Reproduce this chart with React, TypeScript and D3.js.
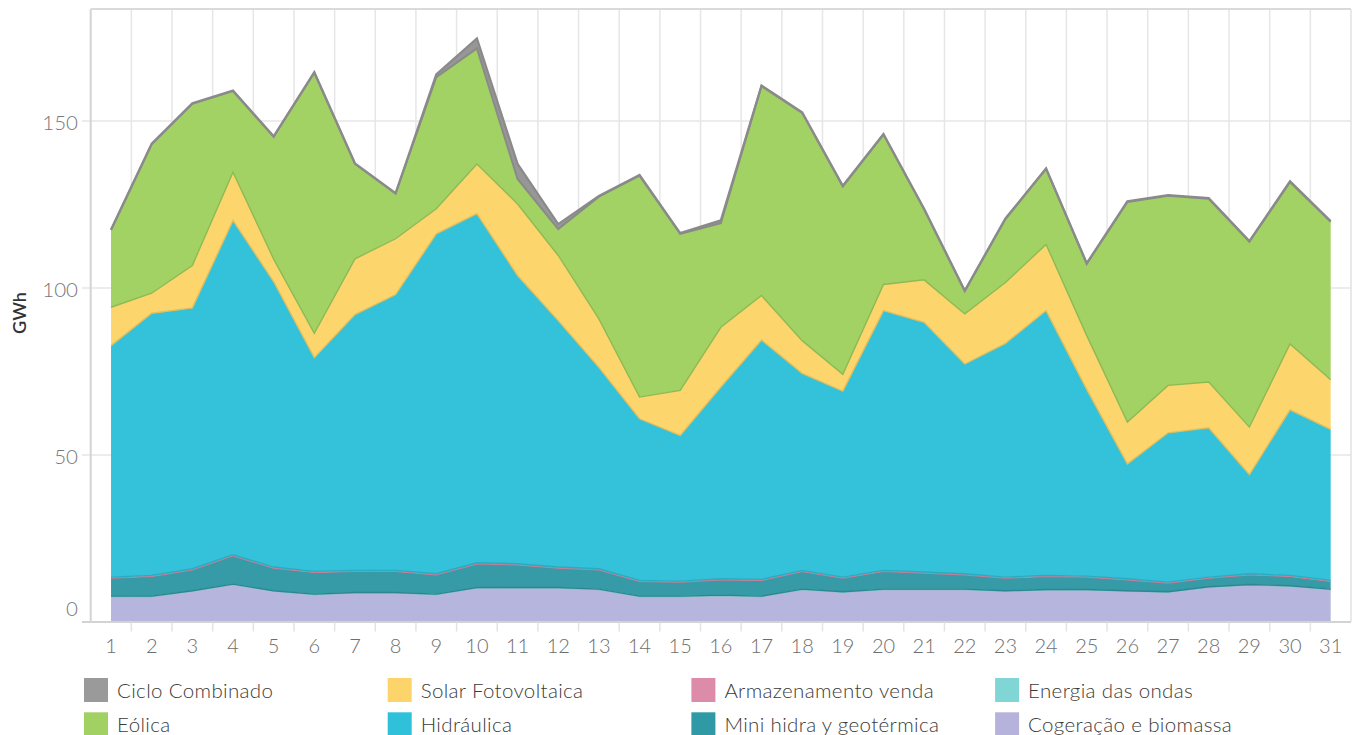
import React, { useEffect, useRef } from 'react';
import { select, scaleBand, scaleLinear, stack, area, line, axisLeft, axisBottom, color } from 'd3';

// dias do mês
const days = ['1','2','3','4','5','6','7','8','9','10','11','12','13','14','15','16','17','18','19','20','21','22','23','24','25','26','27','28','29','30','31'];

// GWh por tecnologia
const cicloCombinado = [0.2,0.2,0.2,0.2,0.2,0.2,0.2,0.2,0.8,3.0,4.5,1.5,0.2,0.2,0.2,0.8,0.2,0.2,0.2,0.2,0.2,0.2,0.2,0.2,0.2,0.2,0.2,0.2,0.2,0.2,0.2];
const eolica = [23.1,44.6,48.4,24.3,36.6,78.0,28.4,13.5,39.4,34.6,7.5,7.9,36.6,66.3,46.9,31.2,62.7,68.2,56.3,44.9,21.1,6.8,19.0,22.6,21.5,65.9,56.8,54.9,55.5,48.5,47.3];
const solarFotovoltaica = [11.5,6.0,12.7,14.4,6.7,7.3,16.7,16.7,7.5,14.9,21.4,19.5,14.5,6.5,13.5,17.9,13.3,9.8,5.0,7.8,12.7,15.0,18.2,19.8,16.1,12.5,14.2,13.7,14.2,19.7,14.9];
const hidraulica = [69.3,78.5,78.1,100.1,85.5,64.0,76.6,82.6,101.8,104.5,86.3,73.8,60.3,48.4,43.6,57.4,71.7,59.0,55.7,77.8,74.8,62.8,70.0,79.3,55.9,34.4,44.7,44.7,29.7,49.6,45.2];
const armazenamentoVenda = [0.3,0.3,0.3,0.3,0.3,0.3,0.3,0.3,0.3,0.3,0.3,0.3,0.3,0.3,0.3,0.3,0.3,0.3,0.3,0.3,0.3,0.3,0.3,0.3,0.3,0.3,0.3,0.3,0.3,0.3,0.3];
const miniHidra = [5.4,5.9,6.3,8.5,6.8,6.5,6.3,6.3,5.8,7.1,6.8,5.8,5.8,4.4,4.2,4.6,4.7,5.3,4.1,5.3,4.8,4.3,3.8,3.9,3.7,3.3,2.6,2.6,2.9,2.8,2.3];
const energiaOndas = [0.1,0.1,0.1,0.1,0.1,0.1,0.1,0.1,0.1,0.1,0.1,0.1,0.1,0.1,0.1,0.1,0.1,0.1,0.1,0.1,0.1,0.1,0.1,0.1,0.1,0.1,0.1,0.1,0.1,0.1,0.1];
const cogeracao = [7.5,7.5,9.1,11.1,9.1,8.1,8.6,8.6,8.1,10.1,10.1,10.1,9.6,7.5,7.5,7.8,7.5,9.6,8.8,9.6,9.6,9.6,9.1,9.5,9.5,9.1,8.8,10.3,11.0,10.6,9.6];

const yTicks = [0, 50, 100, 150];

// ordem de empilhamento, de baixo para cima
const series = [
  { key: 'Cogeração e biomassa', values: cogeracao, color: '#b3b2dc' },
  { key: 'Energia das ondas', values: energiaOndas, color: '#80d6d4' },
  { key: 'Mini hidra y geotérmica', values: miniHidra, color: '#2e97a3' },
  { key: 'Armazenamento venda', values: armazenamentoVenda, color: '#dc8ca8' },
  { key: 'Hidráulica', values: hidraulica, color: '#2bbfd8' },
  { key: 'Solar Fotovoltaica', values: solarFotovoltaica, color: '#fcd366' },
  { key: 'Eólica', values: eolica, color: '#9ecf5e' },
  { key: 'Ciclo Combinado', values: cicloCombinado, color: '#939393' },
];

const legendColor = {
  'Ciclo Combinado': '#9a9a9a',
  'Eólica': '#a1d163',
  'Solar Fotovoltaica': '#fcd46a',
  'Hidráulica': '#30c1da',
  'Armazenamento venda': '#dc8ca8',
  'Mini hidra y geotérmica': '#2f9aa6',
  'Energia das ondas': '#80d6d4',
  'Cogeração e biomassa': '#b5b3dc',
};

// legenda em 2 linhas x 4 colunas
const legendRows = [
  ['Ciclo Combinado', 'Solar Fotovoltaica', 'Armazenamento venda', 'Energia das ondas'],
  ['Eólica', 'Hidráulica', 'Mini hidra y geotérmica', 'Cogeração e biomassa'],
];

const W = 1358;
const H = 735;
const FONT = "Lato, 'Open Sans', sans-serif";

export default function App() {
  const svgRef = useRef(null);

  useEffect(() => {
    const svg = select(svgRef.current);
    const left = 90.7, right = 1351, top = 9, bottom = 621.5;

    const x = scaleBand().domain(days).range([left, right]).padding(0);
    const y = scaleLinear().domain([0, 183.4]).range([bottom, top]);
    const cx = (d) => x(d) + x.bandwidth() / 2;

    const rows = days.map((d, i) => {
      const r = { day: d };
      series.forEach((s) => (r[s.key] = s.values[i]));
      return r;
    });
    const layers = stack().keys(series.map((s) => s.key))(rows);
    const colorOf = {};
    series.forEach((s) => (colorOf[s.key] = s.color));

    // grade vertical
    svg
      .select('.grid-x')
      .selectAll('line')
      .data(days.slice(1))
      .join('line')
      .attr('x1', (d) => x(d))
      .attr('x2', (d) => x(d))
      .attr('y1', top)
      .attr('y2', bottom)
      .attr('stroke', '#e6e6e6')
      .attr('stroke-width', 1.5);

    // eixo y + grade horizontal
    const yAxis = axisLeft(y).tickValues(yTicks).tickSize(-(right - 82)).tickPadding(4);
    svg
      .select('.y-axis')
      .attr('transform', 'translate(82,0)')
      .call(yAxis)
      .call((g) => g.select('.domain').remove())
      .call((g) => g.selectAll('.tick line').attr('stroke', (d) => (d === 0 ? '#d0d0d0' : '#e6e6e6')).attr('stroke-width', (d) => (d === 0 ? 2 : 1.5)))
      .call((g) =>
        g
          .selectAll('.tick text')
          .attr('fill', '#777')
          .style('font-size', '20.5px')
          .style('font-weight', 300)
          .style('font-family', FONT)
          .attr('dy', (d) => (d === 0 ? '-0.3em' : '0.42em'))
      );

    // áreas empilhadas
    const areaGen = area()
      .x((d) => cx(d.data.day))
      .y0((d) => y(d[0]))
      .y1((d) => y(d[1]));
    svg
      .select('.areas')
      .selectAll('path')
      .data(layers)
      .join('path')
      .attr('d', areaGen)
      .attr('fill', (l) => colorOf[l.key])
      .attr('fill-opacity', 0.96);

    // bordas das áreas
    const bottomLine = line()
      .x((d) => cx(d.data.day))
      .y((d) => y(d[0]));
    const topLine = line()
      .x((d) => cx(d.data.day))
      .y((d) => y(d[1]));
    const edges = svg.select('.edges');
    edges
      .selectAll('path.bot')
      .data(layers.slice(1))
      .join('path')
      .attr('class', 'bot')
      .attr('d', bottomLine)
      .attr('fill', 'none')
      .attr('stroke', (l) => (l.key === 'Ciclo Combinado' ? '#8a8a8a' : color(colorOf[l.key]).darker(0.3).formatHex()))
      .attr('stroke-width', (l) => (l.key === 'Ciclo Combinado' ? 2 : 1.4));
    edges
      .selectAll('path.top')
      .data(layers.slice(-1))
      .join('path')
      .attr('class', 'top')
      .attr('d', topLine)
      .attr('fill', 'none')
      .attr('stroke', '#8a8a8a')
      .attr('stroke-width', 2.2);

    // moldura
    const frame = svg.select('.frame');
    frame.selectAll('*').remove();
    frame.append('line').attr('x1', left).attr('x2', left).attr('y1', top).attr('y2', bottom + 1).attr('stroke', '#d3d3d3').attr('stroke-width', 2);
    frame.append('line').attr('x1', left).attr('x2', right).attr('y1', top).attr('y2', top).attr('stroke', '#dadada').attr('stroke-width', 2);
    frame.append('line').attr('x1', right).attr('x2', right).attr('y1', top).attr('y2', bottom).attr('stroke', '#e2e2e2').attr('stroke-width', 1.5);
    frame.append('line').attr('x1', 82).attr('x2', right).attr('y1', bottom + 0.5).attr('y2', bottom + 0.5).attr('stroke', '#d3d3d3').attr('stroke-width', 2);

    // eixo x
    const xAxis = axisBottom(x).tickSize(0).tickPadding(17);
    svg
      .select('.x-axis')
      .attr('transform', `translate(0,${bottom})`)
      .call(xAxis)
      .call((g) => g.select('.domain').remove())
      .call((g) =>
        g.selectAll('.tick text').attr('fill', '#6e6e6e').style('font-size', '20px').style('font-weight', 300).style('font-family', FONT)
      );
    svg
      .select('.x-ticks')
      .selectAll('line')
      .data(days.slice(1))
      .join('line')
      .attr('x1', (d) => x(d))
      .attr('x2', (d) => x(d))
      .attr('y1', bottom + 1)
      .attr('y2', bottom + 10)
      .attr('stroke', '#e3e3e3')
      .attr('stroke-width', 1.5);

    // legenda
    const legend = svg.select('.legend');
    legend.selectAll('*').remove();
    legendRows.forEach((row, ri) => {
      row.forEach((name, ci) => {
        const g = legend.append('g').attr('transform', `translate(${84 + ci * 303.7},${678 + ri * 34.3})`);
        g.append('rect').attr('width', 24).attr('height', 24).attr('fill', legendColor[name]);
        g.append('text')
          .attr('x', 33)
          .attr('y', 20)
          .attr('fill', '#3a3a3a')
          .style('font-size', '20.5px')
          .style('font-weight', 300)
          .style('letter-spacing', '0.35px')
          .style('font-family', FONT)
          .text(name);
      });
    });
  }, []);

  return (
    <svg ref={svgRef} width={W} height={H} style={{ position: 'absolute', left: 0, top: 0, background: '#fff' }}>
      <g className="grid-x" />
      <g className="y-axis" />
      <g className="areas" />
      <g className="edges" />
      <g className="frame" />
      <g className="x-ticks" />
      <g className="x-axis" />
      <text transform="translate(26,313) rotate(-90)" textAnchor="middle" fontSize={18} fontWeight={600} fill="#333" fontFamily={FONT}>
        GWh
      </text>
      <g className="legend" />
    </svg>
  );
}
